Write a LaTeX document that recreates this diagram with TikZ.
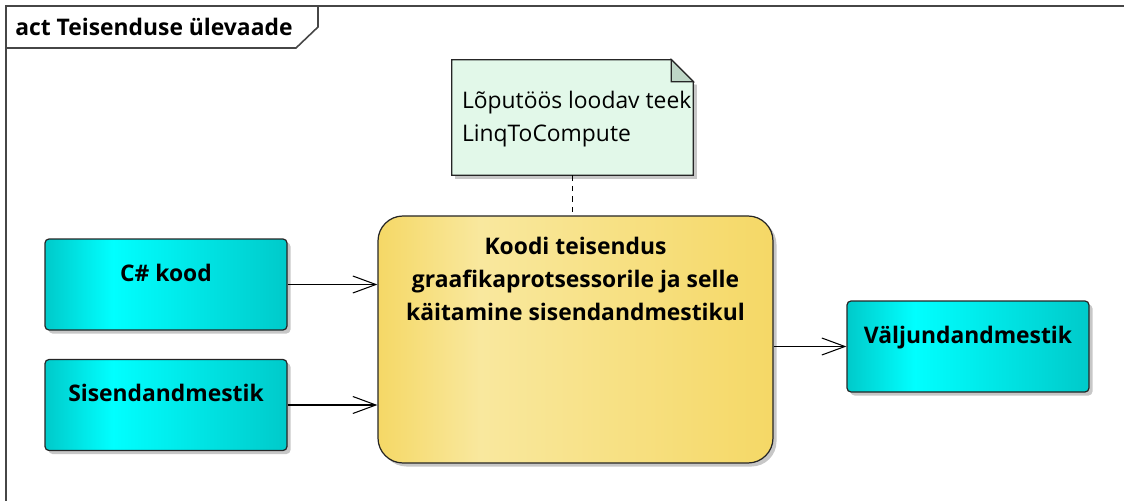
\documentclass[tikz,border=0pt]{standalone}
\usepackage{fontspec}
\setmainfont{Open Sans}
\usetikzlibrary{arrows.meta,positioning,shadows}

\definecolor{cyanedge}{RGB}{0,202,202}
\definecolor{cyanlight}{RGB}{0,255,255}
\definecolor{goldedge}{RGB}{245,216,102}
\definecolor{goldlight}{RGB}{249,232,158}
\definecolor{notefill}{RGB}{226,248,233}
\definecolor{notefold}{RGB}{190,214,198}
\definecolor{framegray}{RGB}{70,70,70}

\pgfdeclarehorizontalshading{cyanshade}{100bp}{color(0bp)=(cyanedge); color(25bp)=(cyanedge); color(39bp)=(cyanlight); color(75bp)=(cyanedge); color(100bp)=(cyanedge)}
\pgfdeclarehorizontalshading{goldshade}{100bp}{color(0bp)=(goldedge); color(25bp)=(goldedge); color(38bp)=(goldlight); color(75bp)=(goldedge); color(100bp)=(goldedge)}

\begin{document}
\begin{tikzpicture}[
    font=\fontsize{13}{18.7}\selectfont,
    frame/.style={draw=framegray, line width=0.9pt},
    shadowed/.style={drop shadow={shadow xshift=0.07cm, shadow yshift=-0.07cm, opacity=0.22, fill=black}},
    databox/.style={draw=black!85, line width=0.7pt, rounded corners=0.08cm, shading=cyanshade, minimum width=4.84cm, minimum height=1.82cm, shadowed},
    corebox/.style={draw=black!85, line width=0.7pt, rounded corners=0.5cm, shading=goldshade, minimum width=7.9cm, minimum height=4.94cm, shadowed},
    boxtext/.style={font=\fontsize{13}{18.7}\selectfont\bfseries, align=center, inner sep=0pt},
    notebox/.style={minimum width=4.82cm, minimum height=2.3cm, inner sep=0pt},
    notetext/.style={align=left, inner sep=0pt, font=\fontsize{13}{18.7}\selectfont},
    flow/.style={-{Straight Barb[length=4.6mm, width=3.4mm]}, line width=0.6pt},
    anchorline/.style={dashed, line width=0.6pt, dash pattern=on 3pt off 3pt}
]
\useasboundingbox (0,0) rectangle (22.48,-10.02);

% Frame
\draw[frame] (0.12,-10.1) -- (0.12,-0.12) -- (22.6,-0.12);
\draw[frame] (0.12,-0.96) -- (5.92,-0.96) -- (6.36,-0.54) -- (6.36,-0.12);
\node[anchor=west, font=\fontsize{13}{18.7}\selectfont\bfseries, inner sep=0pt] (title) at (0.3,-0.54) {act Teisenduse ülevaade};

% Note
\node[notebox] (note) at (11.45,-2.35) {};
\fill[black, opacity=0.22] ([xshift=0.07cm, yshift=-0.07cm]note.south west) -- ([xshift=0.07cm, yshift=-0.07cm]note.south east) -- ([xshift=0.07cm, yshift=-0.5cm]note.north east) -- ([xshift=0.07cm, yshift=-0.07cm]note.north west) -- cycle;
\filldraw[fill=notefill, draw=black!85, line width=0.7pt] (note.south west) -- (note.north west) -- ([xshift=-0.44cm]note.north east) -- ([yshift=-0.44cm]note.north east) -- (note.south east) -- cycle;
\filldraw[fill=notefold, draw=black!85, line width=0.7pt] ([xshift=-0.44cm]note.north east) -- ([xshift=-0.44cm, yshift=-0.44cm]note.north east) -- ([yshift=-0.44cm]note.north east) -- cycle;
\node[notetext, anchor=west] (note-text) at ([xshift=0.2cm, yshift=-0.03cm]note.west) {Lõputöös loodav teek\\LinqToCompute};

% Activities
\node[corebox] (core) at (11.51,-6.79) {};
\node[boxtext, below=0.43cm of core.north] (core-text) {Koodi teisendus\\graafikaprotsessorile ja selle\\käitamine sisendandmestikul};

\node[databox] (code) at (3.32,-5.69) {};
\node[boxtext, below=0.5cm of code.north] (code-text) {C\# kood};

\node[databox] (input) at (3.32,-8.10) {};
\node[boxtext, below=0.5cm of input.north] (input-text) {Sisendandmestik};

\node[databox] (output) at (19.36,-6.93) {};
\node[boxtext, below=0.5cm of output.north] (output-text) {Väljundandmestik};

% Connections
\draw[anchorline] (note.south) -- (note.south |- core.north);
\draw[flow] (code) -- (code -| core.west);
\draw[flow] (input) -- (input -| core.west);
\draw[flow] (core.east |- output) -- (output);

\end{tikzpicture}
\end{document}
